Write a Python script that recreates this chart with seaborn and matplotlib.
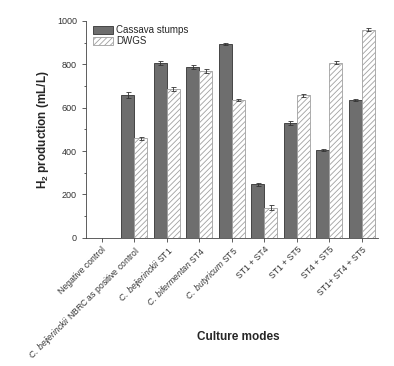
# grouped bar plot of H2 production per culture mode with seaborn

import pandas as pd
import seaborn as sns
import matplotlib.pyplot as plt

# data
modes = ['Negative control',
         r'$\it{C.\ beijerinckii}$ NBRC as positive control',
         r'$\it{C.\ beijerinckii}$ ST1',
         r'$\it{C.\ bifermentan}$ ST4',
         r'$\it{C.\ butyricum}$ ST5',
         'ST1 + ST4', 'ST1 + ST5', 'ST4 + ST5', 'ST1+ ST4 + ST5']
cassava = [0, 658, 805, 788, 895, 247, 530, 405, 637]
cassava_err = [0, 12, 10, 8, 4, 7, 9, 5, 5]
dwgs = [0, 458, 688, 767, 637, 140, 658, 808, 960]
dwgs_err = [0, 5, 9, 9, 5, 13, 7, 6, 8]
substrates = ['Cassava stumps', 'DWGS']

df = pd.DataFrame({
    'mode': modes * 2,
    'substrate': [substrates[0]] * len(modes) + [substrates[1]] * len(modes),
    'h2': cassava + dwgs,
})

sns.set_style('ticks')
plt.rcParams['font.family'] = ['Liberation Sans', 'DejaVu Sans']
plt.rcParams['mathtext.fontset'] = 'custom'
plt.rcParams['mathtext.rm'] = 'Liberation Sans'
plt.rcParams['mathtext.it'] = 'Liberation Sans:italic'
plt.rcParams['mathtext.bf'] = 'Liberation Sans:bold'
plt.rcParams['hatch.color'] = '#b0b0b0'
plt.rcParams['hatch.linewidth'] = 0.6

fig = plt.figure(figsize=(3.94, 3.66), dpi=100)
ax = fig.add_axes([0.218, 0.35, 0.742, 0.593])

sns.barplot(data=df, x='mode', y='h2', hue='substrate',
            palette=['#6e6e6e', 'white'], width=0.8, ax=ax)


def style_bar(p, sub):
    if sub == 'DWGS':
        p.set_hatch('//////')
        p.set_edgecolor('#a0a0a0')
    else:
        p.set_edgecolor('#333333')
    p.set_linewidth(0.6)


# style the bars and put the error bars on them
errs = {substrates[0]: cassava_err, substrates[1]: dwgs_err}
for cont, sub in zip(ax.containers, substrates):
    xs, ys = [], []
    for p in cont.patches:
        style_bar(p, sub)
        xs.append(p.get_x() + p.get_width() / 2)
        ys.append(p.get_height())
    ax.errorbar(xs[1:], ys[1:], yerr=errs[sub][1:], fmt='none',
                ecolor='#333333', elinewidth=0.6, capsize=1.8, capthick=0.6)

ax.set_ylim(0, 1000)
ax.set_xlim(-0.48, 8.5)
ax.set_yticks([0, 200, 400, 600, 800, 1000])
ax.set_yticks(range(100, 1000, 200), minor=True)
ax.tick_params(axis='both', which='major', labelsize=6.5, length=3, width=0.6,
               color='#444444', labelcolor='#333333')
ax.tick_params(axis='x', labelsize=6.2, pad=2)
ax.tick_params(axis='y', which='minor', length=1.8, width=0.6, color='#444444')
ax.set_xticks(range(len(modes)))
ax.set_xticklabels(modes, rotation=45, ha='right', rotation_mode='anchor')
for s in ['left', 'bottom']:
    ax.spines[s].set_linewidth(0.6)
    ax.spines[s].set_color('#444444')
sns.despine(ax=ax)

ax.set_ylabel(r'H$_\mathbf{2}$ production (mL/L)', fontsize=8.5, fontweight='bold')
ax.set_xlabel('Culture modes', fontsize=8.5, fontweight='bold')
ax.xaxis.set_label_coords(0.52, -0.43)

leg = ax.legend(loc='upper left', bbox_to_anchor=(0.0, 1.01), frameon=False,
                fontsize=7, handlelength=2.1, handleheight=0.95,
                handletextpad=0.3, labelspacing=0.1, borderaxespad=0.3)
for h, sub in zip(leg.legend_handles, substrates):
    style_bar(h, sub)

plt.savefig('out.png', dpi=100)
